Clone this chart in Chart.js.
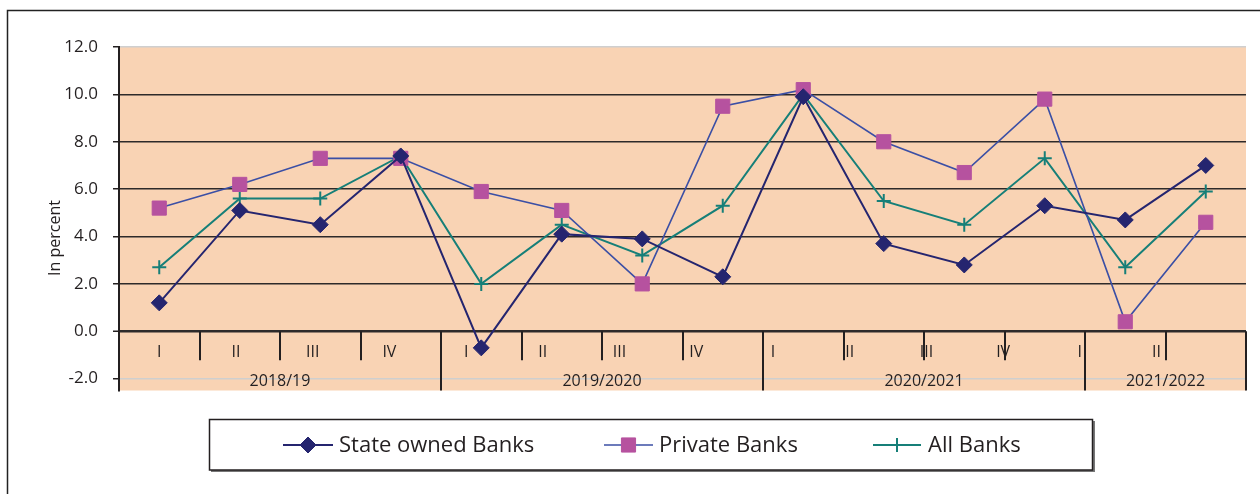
<!DOCTYPE html>
<html>
<head>
<meta charset="utf-8">
<script src="https://cdn.jsdelivr.net/npm/chart.js@4"></script>
<style>
  html, body { margin: 0; padding: 0; background: #fff; }
  #wrap { position: relative; width: 1260px; height: 494px; }
</style>
</head>
<body>
<div id="wrap"><canvas id="bankChart" width="1260" height="494"></canvas></div>
<script>
const quarters = ['I', 'II', 'III', 'IV', 'I', 'II', 'III', 'IV', 'I', 'II', 'III', 'IV', 'I', 'II'];
const years = ['2018/19', '2019/2020', '2020/2021', '2021/2022'];
const yearQuarters = [4, 4, 4, 2];

const stateOwned = [1.2, 5.1, 4.5, 7.4, -0.7, 4.1, 3.9, 2.3, 9.9, 3.7, 2.8, 5.3, 4.7, 7.0];
const privateBanks = [5.2, 6.2, 7.3, 7.3, 5.9, 5.1, 2.0, 9.5, 10.2, 8.0, 6.7, 9.8, 0.4, 4.6];
const allBanks = [2.7, 5.6, 5.6, 7.4, 2.0, 4.5, 3.2, 5.3, 10.0, 5.5, 4.5, 7.3, 2.7, 5.9];

const yTicks = [-2, 0, 2, 4, 6, 8, 10, 12];

const FONT = '"Open Sans", "Noto Sans", sans-serif';
const TEXT = '#231f20';

const series = [
  { label: 'State owned Banks', data: stateOwned, line: '#25256f', fill: '#25256f', style: 'rectRot', radius: 8, width: 2 },
  { label: 'Private Banks', data: privateBanks, line: '#3b4fa5', fill: '#b6529f', style: 'rect', radius: 10, width: 1.6 },
  { label: 'All Banks', data: allBanks, line: '#167f78', fill: '#167f78', style: 'cross', radius: 7, width: 2 }
];

// frame, plot background, category labels, axis title and boxed legend
const decorations = {
  id: 'decorations',
  beforeDraw(chart) {
    const { ctx, chartArea: a } = chart;
    ctx.save();
    ctx.strokeStyle = '#222';
    ctx.lineWidth = 1.5;
    ctx.strokeRect(7.5, 10.5, 1400, 600);
    ctx.fillStyle = '#f9d3b4';
    ctx.fillRect(a.left, a.top, a.right - a.left, a.bottom - a.top);
    ctx.restore();
  },
  beforeDatasetsDraw(chart) {
    const { ctx, chartArea: a, scales: { x, y } } = chart;
    const step = (a.right - a.left) / quarters.length;
    const zero = y.getPixelForValue(0);
    ctx.save();
    ctx.strokeStyle = '#231f20';
    ctx.lineWidth = 2;
    // quarter separators, longer where a year ends
    let yearEnd = 0;
    const yearEnds = yearQuarters.map(n => (yearEnd += n));
    for (let i = 0; i <= quarters.length; i++) {
      const px = Math.round(a.left + i * step);
      const long = i === 0 || yearEnds.includes(i);
      ctx.beginPath();
      ctx.moveTo(px, zero);
      ctx.lineTo(px, long ? a.bottom : zero + 29);
      ctx.stroke();
    }
    ctx.fillStyle = TEXT;
    ctx.font = '16px ' + FONT;
    ctx.textAlign = 'center';
    ctx.textBaseline = 'middle';
    quarters.forEach((q, i) => {
      ctx.fillText(q, x.getPixelForValue(i) - i * 0.047 * step, zero + 21);
    });
    let start = 0;
    years.forEach((yr, j) => {
      const end = start + yearQuarters[j];
      ctx.fillText(yr, a.left + (start + end) / 2 * step, y.getPixelForValue(-2) + 3);
      start = end;
    });
    // axis title
    ctx.translate(55, 238);
    ctx.rotate(-Math.PI / 2);
    ctx.font = '16px ' + FONT;
    ctx.fillText('In percent', 0, 0);
    ctx.restore();
  },
  afterDraw(chart) {
    const { ctx } = chart;
    ctx.save();
    ctx.fillStyle = '#777';
    ctx.fillRect(211, 421, 884, 51);
    ctx.fillStyle = '#fff';
    ctx.fillRect(209, 419, 884, 51);
    ctx.strokeStyle = '#231f20';
    ctx.lineWidth = 1.5;
    ctx.strokeRect(209.5, 419.5, 883, 50.5);
    const items = [
      { x0: 283, x1: 333, tx: 339 },
      { x0: 604, x1: 653, tx: 659 },
      { x0: 873, x1: 921, tx: 928 }
    ];
    const ly = 445;
    ctx.font = '22px ' + FONT;
    ctx.textBaseline = 'middle';
    ctx.textAlign = 'left';
    series.forEach((s, i) => {
      const it = items[i];
      ctx.strokeStyle = s.line;
      ctx.lineWidth = s.width;
      ctx.beginPath();
      ctx.moveTo(it.x0, ly);
      ctx.lineTo(it.x1, ly);
      ctx.stroke();
      ctx.fillStyle = s.fill;
      ctx.strokeStyle = s.fill;
      ctx.lineWidth = s.style === 'cross' ? 2 : 1;
      Chart.helpers.drawPoint(ctx, { pointStyle: s.style, radius: s.radius, rotation: 0, borderWidth: ctx.lineWidth }, (it.x0 + it.x1) / 2, ly);
      ctx.fillStyle = TEXT;
      ctx.fillText(s.label, it.tx, ly + 1);
    });
    ctx.restore();
  }
};

new Chart(document.getElementById('bankChart'), {
  type: 'line',
  data: {
    labels: quarters,
    datasets: series.map(s => ({
      label: s.label,
      data: s.data,
      borderColor: s.line,
      borderWidth: s.width,
      pointStyle: s.style,
      pointRadius: s.radius,
      pointHoverRadius: s.radius,
      pointBackgroundColor: s.fill,
      pointBorderColor: s.fill,
      pointBorderWidth: s.style === 'cross' ? 2 : 1,
      tension: 0,
      fill: false,
      clip: false
    }))
  },
  options: {
    responsive: false,
    animation: false,
    layout: { padding: { top: 47, right: 14, bottom: 103.5, left: 0 } },
    plugins: { legend: { display: false }, tooltip: { enabled: false } },
    scales: {
      x: { display: false, offset: true },
      y: {
        min: -2.5,
        max: 12,
        afterBuildTicks: axis => { axis.ticks = yTicks.map(v => ({ value: v })); },
        afterFit: axis => { axis.width = 119; },
        border: { display: true, color: '#231f20', width: 2 },
        grid: {
          color: c => (c.tick.value === 12 || c.tick.value === -2) ? '#cfcfcf' : '#2e2a2a',
          lineWidth: c => c.tick.value === 0 ? 2.5 : 1.5,
          tickColor: '#231f20',
          tickLength: 6,
          tickWidth: 1.5
        },
        ticks: {
          padding: 15,
          color: TEXT,
          font: { family: FONT, size: 17 },
          callback: v => v.toFixed(1)
        }
      }
    }
  },
  plugins: [decorations]
});
</script>
</body>
</html>
